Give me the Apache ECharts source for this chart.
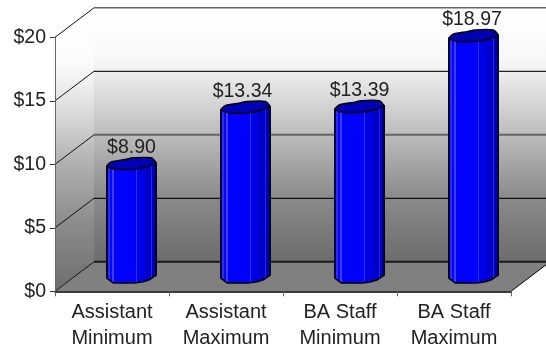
<!DOCTYPE html>
<html>
<head>
<meta charset="utf-8">
<style>html,body{margin:0;padding:0;background:#fff}#chart{width:546px;height:348px}</style>
<script src="https://cdn.jsdelivr.net/npm/echarts@6/dist/echarts.min.js"></script>
</head>
<body>
<div id="chart"></div>
<script>
// Hourly pay range by role
const categories = ['Assistant\nMinimum', 'Assistant\nMaximum', 'BA Staff\nMinimum', 'BA Staff\nMaximum'];
const payRates = [8.90, 13.34, 13.39, 18.97];
const yTicks = [0, 5, 10, 15, 20];

// Oblique offset from the front plane to the back wall
const DEPTH_X = 39;
const DEPTH_Y = -29.5;
const CYL_RX = 24.7;
// Small sideways nudges that keep the value labels clear of one another
const LABEL_NUDGE = [0, -3, 0, -1.5];

// Outline of the cylinder cap, as [fraction of radius, px from centre]
const CAP = [[-1,2.7],[-0.8,-1.7],[-0.27,-4],[0.07,-5.7],[0.8,-5.7],[0.97,-1],[0.6,3.3],[0.13,5.7],[-0.53,6],[-0.8,5]];
// Lower rim of the cylinder, running left to right
const RIM = [[-0.73,6.5],[0.13,6.5],[0.47,5.2],[0.73,3.2],[1,-1.5]];

// Vertical facets on the cylinder wall
const hardStops = (list) => {
  const out = [];
  list.forEach(([from, to, color]) => {
    out.push({ offset: from, color }, { offset: to, color });
  });
  return out;
};
const facets = hardStops([
  [0, 0.04, '#0000c8'], [0.04, 0.07, '#2a2aff'], [0.07, 0.12, '#0808f0'], [0.12, 0.15, '#3c3cff'],
  [0.15, 0.58, '#0000ff'], [0.58, 0.6, '#3030ff'], [0.6, 0.75, '#0000e6'], [0.75, 0.88, '#0000cc'],
  [0.88, 0.9, '#2525e0'], [0.9, 1, '#0000b0']
]);

const gridlineStyle = {
  0: ['#1a1a1a', 2],
  5: ['#111', 1.2],
  10: ['#666', 2],
  15: ['#222', 1.2],
  20: ['#666', 1.6]
};

function chamberItem(params, api) {
  const g = params.coordSys;
  const l = g.x, r = g.x + g.width, t = g.y, b = g.y + g.height;
  const grey = (stops) => ({
    type: 'linear', x: 0, y: 0, x2: 0, y2: 1,
    colorStops: stops.map(([offset, color]) => ({ offset, color }))
  });
  const backWall = grey([[0, '#ffffff'], [0.2, '#f8f8f8'], [0.25, '#eeeeee'], [0.5, '#bcbcbc'], [0.75, '#8a8a8a'], [1, '#6c6c6c']]);
  const sideWall = grey([[0, '#ffffff'], [0.2, '#fbfbfb'], [0.35, '#dfdfdf'], [0.55, '#b0b0b0'], [0.77, '#8a8a8a'], [1, '#6e6e6e']]);
  const edge = (x1, y1, x2, y2, stroke, lineWidth) => ({
    type: 'line', shape: { x1, y1, x2, y2 }, style: { stroke, lineWidth }
  });
  const children = [
    { type: 'polygon', shape: { points: [[l, t], [l + DEPTH_X, t + DEPTH_Y], [l + DEPTH_X, b + DEPTH_Y], [l, b]] }, style: { fill: sideWall } },
    { type: 'rect', shape: { x: l + DEPTH_X, y: t + DEPTH_Y, width: g.width, height: g.height }, style: { fill: backWall } },
    { type: 'polygon', shape: { points: [[l, b], [r, b], [r + DEPTH_X, b + DEPTH_Y], [l + DEPTH_X, b + DEPTH_Y]] }, style: { fill: '#808080' } },
    edge(r, b, r + DEPTH_X, b + DEPTH_Y, '#000', 1)
  ];
  yTicks.forEach((tick) => {
    const y = api.coord([0, tick])[1];
    const [stroke, width] = gridlineStyle[tick];
    children.push(edge(l, y, l + DEPTH_X, y + DEPTH_Y, '#111', 1));
    children.push(edge(l + DEPTH_X, y + DEPTH_Y, r + DEPTH_X, y + DEPTH_Y, stroke, width));
  });
  return { type: 'group', children };
}

function cylinderItem(params, api) {
  const i = api.value(0), v = api.value(1);
  const topPt = api.coord([i, v]);
  const basePt = api.coord([i, 0]);
  const cx = topPt[0] + DEPTH_X / 2;
  const top = topPt[1] + DEPTH_Y / 2;
  const base = basePt[1] + DEPTH_Y / 2;
  const capPts = CAP.map(([u, d]) => [cx + u * CYL_RX, top + d]);
  const body = [[cx - CYL_RX, top + 2.7], [cx - CYL_RX, base + 1.5]]
    .concat(RIM.map(([u, d]) => [cx + u * CYL_RX, base + d]))
    .concat([[cx + CYL_RX, top - 1]]);
  return {
    type: 'group',
    children: [
      {
        type: 'polygon', shape: { points: body },
        style: {
          fill: { type: 'linear', x: 0, y: 0, x2: 1, y2: 0, colorStops: facets },
          stroke: '#000', lineWidth: 1.5, lineJoin: 'round'
        }
      },
      {
        type: 'polygon', shape: { points: capPts, smooth: 0.25 },
        style: { fill: '#0000b4', stroke: '#000', lineWidth: 1.5, lineJoin: 'round' }
      },
      {
        type: 'text',
        style: {
          x: cx + LABEL_NUDGE[i], y: top - 16, text: '$' + v.toFixed(2),
          align: 'center', verticalAlign: 'middle',
          font: '19.5px "Liberation Sans", Arial, sans-serif', fill: '#222'
        }
      }
    ]
  };
}

const chart = echarts.init(document.getElementById('chart'), null, { renderer: 'canvas' });
chart.setOption({
  animation: false,
  backgroundColor: '#fff',
  grid: { left: 55, right: 35, top: 37.3, bottom: 56.7, containLabel: false, outerBoundsMode: 'none' },
  xAxis: {
    type: 'category', data: categories, z: 5,
    axisLine: { lineStyle: { color: '#000', width: 1.5 } },
    axisTick: { show: true, length: 5, alignWithLabel: false, lineStyle: { color: '#666', width: 1 } },
    axisLabel: {
      interval: 0, margin: 8, color: '#222', lineHeight: 26,
      fontFamily: '"Liberation Sans", Arial, sans-serif', fontSize: 20
    }
  },
  yAxis: {
    type: 'value', min: 0, max: 20, interval: 5, z: 5,
    splitLine: { show: false },
    axisLine: { show: true, lineStyle: { color: '#666', width: 1 } },
    axisTick: { show: true, length: 5, lineStyle: { color: '#333', width: 1 } },
    axisLabel: {
      margin: 9, color: '#222', formatter: (v) => '$' + v,
      fontFamily: '"Liberation Sans", Arial, sans-serif', fontSize: 19.5
    }
  },
  series: [
    { type: 'custom', z: 1, silent: true, data: [[0, 0]], renderItem: chamberItem },
    {
      type: 'custom', z: 3, silent: true,
      data: payRates.map((v, i) => [i, v]),
      encode: { x: 0, y: 1 },
      renderItem: cylinderItem
    }
  ]
});
</script>
</body>
</html>
